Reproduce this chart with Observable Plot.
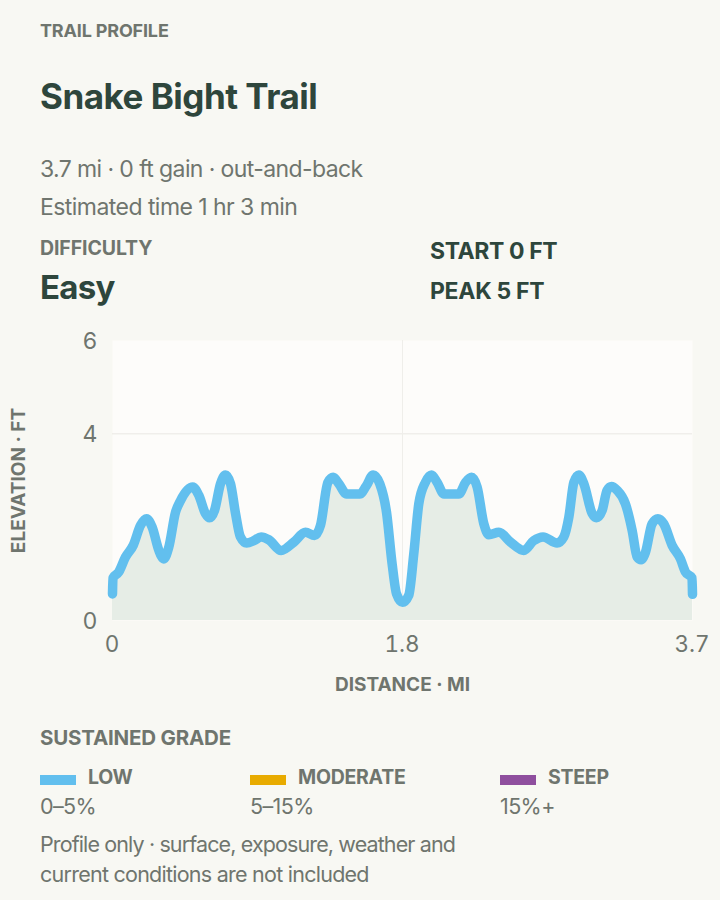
<!DOCTYPE html>
<html><head><meta charset="utf-8">
<script src="https://cdn.jsdelivr.net/npm/d3@7"></script>
<script src="https://cdn.jsdelivr.net/npm/@observablehq/plot@0.6"></script>
<style>
html,body{margin:0;padding:0;background:#f8f8f3;width:720px;height:900px;overflow:hidden;font-family:Inter,sans-serif}
.t{position:absolute;white-space:nowrap;line-height:1}
.lab{font-weight:700;color:#6f756e}
.mut{font-weight:400;color:#6f756e}
.dark{font-weight:700;color:#2e463c}
.sw{position:absolute;width:36px;height:10px}
#chart{position:absolute;left:0;top:320px}
</style></head><body>
<div id="root"></div>
<div id="chart"></div>
<script>
const distance = [0,.003,.04,.083,.132,.179,.217,.253,.296,.327,.359,.402,.434,.512,.551,.593,.619,.651,.689,.721,.753,.785,.816,.855,.902,.948,.997,1.076,1.157,1.231,1.289,1.327,1.374,1.408,1.444,1.493,1.578,1.62,1.663,1.705,1.748,1.784,1.812,1.85,1.89,1.922,1.954,1.996,2.035,2.071,2.114,2.209,2.252,2.29,2.326,2.369,2.401,2.465,2.539,2.624,2.687,2.747,2.836,2.879,2.911,2.943,2.975,3.007,3.06,3.087,3.124,3.155,3.183,3.219,3.272,3.315,3.347,3.372,3.4,3.442,3.479,3.517,3.57,3.623,3.655,3.697,3.7];
const elevation = [.57,.91,1.04,1.36,1.61,2.04,2.18,2,1.5,1.32,1.57,2.32,2.57,2.86,2.68,2.29,2.2,2.36,2.93,3.12,2.93,2.29,1.79,1.66,1.71,1.79,1.73,1.5,1.68,1.89,1.82,2.04,2.96,3.07,2.93,2.71,2.71,2.89,3.12,2.93,2.32,1.21,.57,.39,.54,1.43,2.5,2.96,3.12,2.96,2.71,2.71,2.96,3.07,2.86,2.07,1.84,1.89,1.68,1.5,1.71,1.79,1.66,1.79,2.21,2.96,3.12,2.93,2.29,2.2,2.36,2.79,2.87,2.79,2.5,1.93,1.36,1.3,1.46,2.07,2.18,2.07,1.61,1.32,1.04,.91,.56];
const xTicks = [0,1.85,3.7];
const xTickLabels = ["0","1.8","3.7"];
const yTicks = [0,4,6];
const gradeNames = ["LOW","MODERATE","STEEP"];
const gradeRanges = ["0–5%","5–15%","15%+"];
const gradeColors = ["#62bfee","#e8ab00","#8f4f9e"];
const texts = [
 ["TRAIL PROFILE",40,22,"lab",18,-.17],
 ["Snake Bight Trail",40,79,"dark",35,-.5],
 ["3.7 mi · 0 ft gain · out-and-back",40,158,"mut",23,-.6],
 ["Estimated time 1 hr 3 min",40,196,"mut",23,-.55],
 ["DIFFICULTY",40,239,"lab",19.5,-.1],
 ["Easy",40,271,"dark",33,-.75],
 ["START 0 FT",430,240,"dark",23,-.4],
 ["PEAK 5 FT",430,280,"dark",23,-.3],
 ["SUSTAINED GRADE",40,728,"lab",20.5,-.2],
 ["Profile only · surface, exposure, weather and",40,834,"mut",21.5,-.88],
 ["current conditions are not included",40,864,"mut",21.5,-.75]
];
const root = document.getElementById("root");
function addText(s,x,y,c,f,ls){const d=document.createElement("div");d.className="t "+c;d.textContent=s;d.style.left=x+"px";d.style.top=y+"px";d.style.fontSize=f+"px";d.style.letterSpacing=(ls||0)+"px";root.appendChild(d);}
texts.forEach(t=>addText(...t));
[40,250,500].forEach((x,i)=>{
  const s=document.createElement("div");s.className="sw";s.style.left=x+"px";s.style.top="775px";s.style.background=gradeColors[i];root.appendChild(s);
  addText(gradeNames[i],x+48,768,"lab",19.5,-.27);
  addText(gradeRanges[i],x,796,"mut",21.5,-.6);
});
const data = distance.map((d,i)=>({d,e:elevation[i]}));
const color="#6f756e";
const chart = Plot.plot({
  width:720,height:400,
  marginTop:20,marginBottom:100,marginLeft:112,marginRight:28,
  style:{background:"transparent",fontFamily:"Inter,sans-serif"},
  x:{domain:[0,3.7],axis:null},
  y:{domain:[0,6],axis:null},
  marks:[
    Plot.frame({fill:"#fdfcfa",stroke:null}),
    Plot.gridY([4],{stroke:"#e9e8e3",strokeOpacity:1}),
    Plot.gridX([1.85],{stroke:"#efeeea",strokeOpacity:1}),
    Plot.areaY(data,{x:"d",y:"e",curve:"monotone-x",fill:"#e6ede6"}),
    Plot.lineY(data,{x:"d",y:"e",curve:"monotone-x",stroke:gradeColors[0],strokeWidth:9.5,strokeLinecap:"round",strokeLinejoin:"round"}),
    Plot.axisY({ticks:yTicks,tickFormat:d3.format("d"),tickSize:0,tickPadding:15,dy:1,label:null,fontSize:23,color}),
    Plot.axisX({ticks:xTicks,tickFormat:(d,i)=>xTickLabels[i],tickSize:0,tickPadding:16,dx:-.5,label:null,fontSize:22.5,color}),
    Plot.text(["DISTANCE · MI"],{frameAnchor:"bottom",fontSize:19,fontWeight:700,fill:color,dy:70}),
    Plot.text(["ELEVATION · FT"],{frameAnchor:"left",dx:-94,rotate:-90,textAnchor:"middle",fontSize:19,fontWeight:700,fill:color})
  ]
});
document.getElementById("chart").appendChild(chart);
</script>
</body></html>
